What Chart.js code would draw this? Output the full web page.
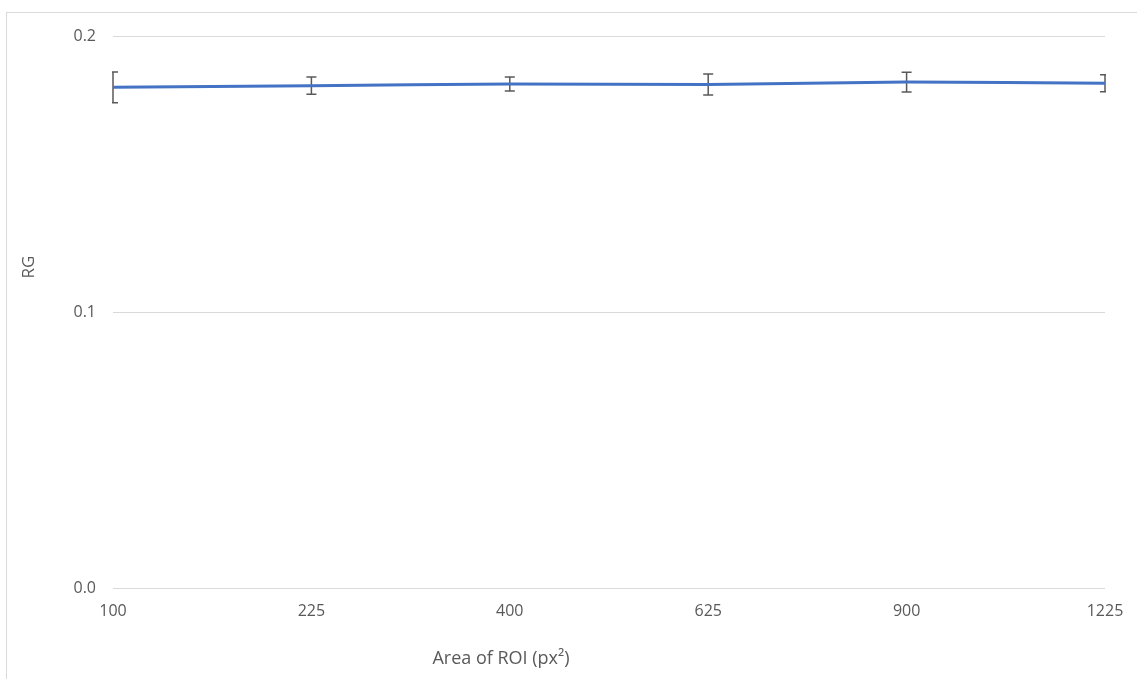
<!DOCTYPE html>
<html>
<head>
<meta charset="utf-8">
<script src="https://cdn.jsdelivr.net/npm/chart.js@4"></script>
<style>
  html, body { margin: 0; padding: 0; background: #fff; }
  #wrap { position: relative; width: 1137px; height: 679px; }
  #frame { position: absolute; left: 6px; top: 12px; right: 0; bottom: 0;
           border-left: 1px solid #d9d9d9; border-top: 1px solid #d9d9d9; }
  canvas { position: absolute; left: 0; top: 0; }
</style>
</head>
<body>
<div id="wrap">
  <div id="frame"></div>
  <canvas id="rg-chart" width="1137" height="679"></canvas>
</div>
<script>
// data
const areas = ["100", "225", "400", "625", "900", "1225"];
const rgMeans = [0.1814, 0.1820, 0.1826, 0.1824, 0.1833, 0.1829];
const rgErrors = [0.0056, 0.0031, 0.0025, 0.0038, 0.0036, 0.0031];
const yTicks = [0, 0.1, 0.2];

const textColor = '#595959';
const font = { family: "'Open Sans', sans-serif", size: 16 };

// error bars, drawn under the line
const errorBars = {
  id: 'errorBars',
  beforeDatasetsDraw(chart) {
    const ctx = chart.ctx;
    const area = chart.chartArea;
    const y = chart.scales.y;
    const points = chart.getDatasetMeta(0).data;
    ctx.save();
    ctx.beginPath();
    ctx.rect(area.left - 1, 0, area.right - area.left + 2, chart.height);
    ctx.clip();
    ctx.strokeStyle = '#595959';
    ctx.lineWidth = 1.5;
    points.forEach((pt, i) => {
      const top = y.getPixelForValue(rgMeans[i] + rgErrors[i]);
      const bottom = y.getPixelForValue(rgMeans[i] - rgErrors[i]);
      ctx.beginPath();
      ctx.moveTo(pt.x, top);
      ctx.lineTo(pt.x, bottom);
      ctx.moveTo(pt.x - 5, top);
      ctx.lineTo(pt.x + 5, top);
      ctx.moveTo(pt.x - 5, bottom);
      ctx.lineTo(pt.x + 5, bottom);
      ctx.stroke();
    });
    ctx.restore();
  }
};

// axis titles sit off-centre in the original
const axisTitles = {
  id: 'axisTitles',
  afterDraw(chart) {
    const ctx = chart.ctx;
    ctx.save();
    ctx.fillStyle = textColor;
    ctx.textAlign = 'center';
    ctx.textBaseline = 'middle';
    ctx.font = `18px ${font.family}`;
    ctx.fillText('Area of ROI (px²)', 501, 659);
    ctx.font = `17px ${font.family}`;
    ctx.translate(29, 267);
    ctx.rotate(-Math.PI / 2);
    ctx.fillText('RG', 0, 0);
    ctx.restore();
  }
};

const rgCanvas = document.getElementById('rg-chart');

let rgChart = new Chart(rgCanvas, {
  type: 'line',
  data: {
    labels: areas,
    datasets: [{
      data: rgMeans,
      borderColor: '#4472C4',
      borderWidth: 3,
      pointRadius: 0,
      tension: 0.2,
      fill: false
    }]
  },
  options: {
    responsive: false,
    animation: false,
    layout: { padding: { top: 36, right: 32, bottom: 0, left: 0 } },
    scales: {
      x: {
        offset: false,
        grid: { display: false },
        border: { display: false },
        ticks: { color: textColor, font: font, padding: 6, maxRotation: 0 },
        afterFit: (scale) => { scale.height = 91; }
      },
      y: {
        min: 0,
        max: 0.2,
        afterBuildTicks: (scale) => { scale.ticks = yTicks.map(v => ({ value: v })); },
        grid: { color: '#d9d9d9', lineWidth: 1, drawTicks: false },
        border: { display: false },
        ticks: {
          color: textColor,
          font: font,
          padding: 17,
          callback: (v) => Number(v).toFixed(1)
        },
        afterFit: (scale) => { scale.width = 113; }
      }
    },
    plugins: {
      legend: { display: false },
      tooltip: { enabled: false }
    }
  },
  plugins: [errorBars, axisTitles]
});
</script>
</body>
</html>
